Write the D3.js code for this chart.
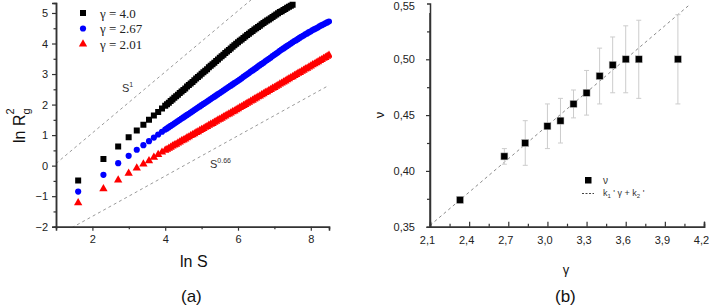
<!DOCTYPE html>
<html>
<head>
<meta charset="utf-8">
<script src="https://cdn.jsdelivr.net/npm/d3@7"></script>
<style>
  body { margin: 0; background: #fff; }
  svg { display: block; font-family: "Liberation Sans", Arial, sans-serif; }
</style>
</head>
<body>
<svg width="709" height="307"></svg>
<script>
const svg = d3.select('svg')

// ---- panel (a) data ----
// ln S for S = 5, 10, ... 50, then every 0.05 up to 8.5
const lnS = [1.609, 2.303, 2.708, 2.996, 3.219, 3.401, 3.555, 3.689, 3.807, 3.912,
  4.00, 4.05, 4.10, 4.15, 4.20, 4.25, 4.30, 4.35, 4.40, 4.45,
  4.50, 4.55, 4.60, 4.65, 4.70, 4.75, 4.80, 4.85, 4.90, 4.95,
  5.00, 5.05, 5.10, 5.15, 5.20, 5.25, 5.30, 5.35, 5.40, 5.45,
  5.50, 5.55, 5.60, 5.65, 5.70, 5.75, 5.80, 5.85, 5.90, 5.95,
  6.00, 6.05, 6.10, 6.15, 6.20, 6.25, 6.30, 6.35, 6.40, 6.45,
  6.50, 6.55, 6.60, 6.65, 6.70, 6.75, 6.80, 6.85, 6.90, 6.95,
  7.00, 7.05, 7.10, 7.15, 7.20, 7.25, 7.30, 7.35, 7.40, 7.45,
  7.50, 7.55, 7.60, 7.65, 7.70, 7.75, 7.80, 7.85, 7.90, 7.95,
  8.00, 8.05, 8.10, 8.15, 8.20, 8.25, 8.30, 8.35, 8.40, 8.45,
  8.50]

const gamma40 = [-0.49, 0.22, 0.63, 0.93, 1.15, 1.34, 1.50, 1.64, 1.76, 1.87,
  1.96, 2.01, 2.06, 2.12, 2.17, 2.22, 2.27, 2.32, 2.38, 2.43,
  2.48, 2.53, 2.59, 2.64, 2.69, 2.74, 2.80, 2.85, 2.90, 2.95,
  3.01, 3.06, 3.11, 3.16, 3.22, 3.27, 3.32, 3.37, 3.43, 3.48,
  3.53, 3.58, 3.63, 3.69, 3.74, 3.79, 3.84, 3.89, 3.94, 3.99,
  4.04, 4.09, 4.13, 4.18, 4.23, 4.28, 4.32, 4.37, 4.41, 4.46,
  4.50, 4.54, 4.58, 4.63, 4.67, 4.71, 4.75, 4.79, 4.83, 4.87,
  4.91, 4.95, 4.99, 5.03, 5.06, 5.10, 5.13, 5.17, 5.20, 5.24,
  5.27]

const gamma267 = [-0.85, -0.30, 0.08, 0.32, 0.52, 0.67, 0.80, 0.92, 1.02, 1.11,
  1.18, 1.22, 1.26, 1.30, 1.34, 1.38, 1.42, 1.46, 1.50, 1.54,
  1.58, 1.62, 1.66, 1.70, 1.74, 1.78, 1.82, 1.86, 1.90, 1.94,
  1.98, 2.02, 2.06, 2.10, 2.14, 2.18, 2.22, 2.26, 2.30, 2.34,
  2.38, 2.42, 2.46, 2.50, 2.54, 2.58, 2.62, 2.66, 2.70, 2.74,
  2.78, 2.82, 2.86, 2.91, 2.95, 2.99, 3.03, 3.08, 3.12, 3.16,
  3.20, 3.25, 3.29, 3.33, 3.37, 3.42, 3.46, 3.50, 3.54, 3.59,
  3.63, 3.67, 3.71, 3.76, 3.80, 3.84, 3.88, 3.92, 3.96, 4.00,
  4.04, 4.08, 4.11, 4.15, 4.19, 4.23, 4.26, 4.30, 4.33, 4.37,
  4.40, 4.44, 4.47, 4.50, 4.53, 4.57, 4.60, 4.63, 4.66, 4.69,
  4.72]

const gamma201 = [-1.22, -0.76, -0.47, -0.25, -0.08, 0.05, 0.16, 0.27, 0.36, 0.44,
  0.50, 0.53, 0.57, 0.60, 0.64, 0.67, 0.70, 0.74, 0.77, 0.81,
  0.84, 0.87, 0.91, 0.94, 0.98, 1.01, 1.04, 1.08, 1.11, 1.15,
  1.18, 1.21, 1.25, 1.28, 1.32, 1.35, 1.38, 1.42, 1.45, 1.49,
  1.52, 1.55, 1.59, 1.62, 1.66, 1.69, 1.72, 1.76, 1.79, 1.83,
  1.86, 1.90, 1.93, 1.97, 2.00, 2.04, 2.07, 2.11, 2.14, 2.18,
  2.21, 2.25, 2.28, 2.32, 2.35, 2.39, 2.42, 2.46, 2.49, 2.53,
  2.56, 2.60, 2.63, 2.67, 2.70, 2.74, 2.77, 2.81, 2.84, 2.88,
  2.91, 2.95, 2.98, 3.02, 3.05, 3.09, 3.12, 3.16, 3.19, 3.23,
  3.26, 3.30, 3.33, 3.37, 3.40, 3.44, 3.47, 3.51, 3.54, 3.58,
  3.61]

const seriesA = [
  { label: 'γ = 4.0', values: gamma40, color: '#000000', symbol: d3.symbolSquare, size: 36 },
  { label: 'γ = 2.67', values: gamma267, color: '#0000ff', symbol: d3.symbolCircle, size: 30 },
  { label: 'γ = 2.01', values: gamma201, color: '#ff0000', symbol: d3.symbolTriangle, size: 30 }
]

// guide lines: ln R^2 = slope * ln S + offset
const guideSlopes = [1, 0.66]
const guideOffsets = [-0.93, -2.98]

// ---- panel (b) data ----
const gammaB = [2.33, 2.67, 2.83, 3.0, 3.1, 3.2, 3.3, 3.4, 3.5, 3.6, 3.7, 4.0]
const nuB = [0.374, 0.413, 0.425, 0.440, 0.445, 0.460, 0.470, 0.485, 0.495, 0.500, 0.500, 0.500]
const nuErr = [0.003, 0.007, 0.020, 0.020, 0.020, 0.0125, 0.020, 0.025, 0.025, 0.030, 0.035, 0.040]
const fitK1 = 0.0994
const fitK2 = 0.1424

// ================= panel (a) =================
const xA = d3.scaleLinear().domain([1, 8.5]).range([56, 329])
const yA = d3.scaleLinear().domain([-2, 5.33]).range([226.7, 2.9])

const gA = svg.append('g')

gA.append('clipPath').attr('id', 'clipA')
  .append('rect').attr('x', 56).attr('y', 0).attr('width', 276).attr('height', 226.7)

const plotA = gA.append('g').attr('clip-path', 'url(#clipA)')

guideSlopes.forEach((s, i) => {
  const x0 = 1, x1 = 8.5
  plotA.append('line')
    .attr('x1', xA(x0)).attr('y1', yA(s * x0 + guideOffsets[i]))
    .attr('x2', xA(x1)).attr('y2', yA(s * x1 + guideOffsets[i]))
    .attr('stroke', '#9a9a9a').attr('stroke-width', 1)
    .attr('stroke-dasharray', '3,3')
})

seriesA.slice().reverse().forEach(s => {
  plotA.append('g').selectAll('path')
    .data(s.values)
    .join('path')
    .attr('transform', (d, i) => `translate(${xA(lnS[i])},${yA(d)})`)
    .attr('d', d3.symbol().type(s.symbol).size(s.size))
    .attr('fill', s.color)
})

// axes (a)
gA.append('g').attr('transform', 'translate(56,0)')
  .call(d3.axisLeft(yA).tickValues(d3.range(-2, 6, 1)).tickSize(4).tickPadding(4).tickFormat(d3.format('d')))
gA.append('g').attr('transform', 'translate(56,0)')
  .call(d3.axisLeft(yA).tickValues(d3.range(-1.5, 5.5, 1)).tickSize(2.5).tickFormat(''))
gA.append('g').attr('transform', 'translate(0,226.7)')
  .call(d3.axisBottom(xA).tickValues([2, 4, 6, 8]).tickSize(4).tickPadding(5).tickFormat(d3.format('d')))
gA.append('g').attr('transform', 'translate(0,226.7)')
  .call(d3.axisBottom(xA).tickValues([3, 5, 7]).tickSize(2.5).tickFormat(''))

// legend (a)
seriesA.forEach((s, i) => {
  const ly = 13 + i * 15.5
  gA.append('path')
    .attr('transform', `translate(83,${ly})`)
    .attr('d', d3.symbol().type(s.symbol).size(s.size))
    .attr('fill', s.color)
  gA.append('text')
    .attr('x', 100).attr('y', ly + 4.5)
    .attr('font-family', '"Liberation Serif", "Times New Roman", serif')
    .attr('font-size', 13).attr('fill', '#222')
    .text(s.label)
})

// guide labels
const sLab1 = gA.append('text').attr('x', 122).attr('y', 92).attr('font-size', 11).attr('fill', '#333')
sLab1.append('tspan').text('S')
sLab1.append('tspan').attr('font-size', 7).attr('dy', -5).text('1')
const sLab2 = gA.append('text').attr('x', 210).attr('y', 168).attr('font-size', 11).attr('fill', '#333')
sLab2.append('tspan').text('S')
sLab2.append('tspan').attr('font-size', 7).attr('dy', -5).text('0.66')

// axis titles (a)
const yLabA = gA.append('text')
  .attr('transform', 'translate(25,143) rotate(-90)')
  .attr('font-size', 16).attr('fill', '#111')
yLabA.append('tspan').text('ln R')
yLabA.append('tspan').attr('font-size', 11).attr('dy', 5).text('g')
yLabA.append('tspan').attr('font-size', 11).attr('dx', -6).attr('dy', -16).text('2')

gA.append('text').attr('x', 180).attr('y', 267).attr('font-size', 16).attr('fill', '#111').text('ln S')
gA.append('text').attr('x', 181).attr('y', 302).attr('font-size', 17).attr('fill', '#111').text('(a)')

// ================= panel (b) =================
const xB = d3.scaleLinear().domain([2.1, 4.2]).range([430, 704])
const yB = d3.scaleLinear().domain([0.35, 0.55]).range([226.7, 3.5])
const commaFmt = f => d => d3.format(f)(d).replace('.', ',')

const gB = svg.append('g')
gB.append('clipPath').attr('id', 'clipB')
  .append('rect').attr('x', 430).attr('y', 0).attr('width', 279).attr('height', 226.7)

gB.append('line')
  .attr('clip-path', 'url(#clipB)')
  .attr('x1', xB(2.1)).attr('y1', yB(fitK1 * 2.1 + fitK2))
  .attr('x2', xB(4.09)).attr('y2', yB(fitK1 * 4.09 + fitK2))
  .attr('stroke', '#8a8a8a').attr('stroke-width', 1)
  .attr('stroke-dasharray', '3,3')

gB.append('g').selectAll('line')
  .data(gammaB)
  .join('line')
  .attr('x1', d => xB(d)).attr('x2', d => xB(d))
  .attr('y1', (d, i) => yB(nuB[i] - nuErr[i]))
  .attr('y2', (d, i) => yB(nuB[i] + nuErr[i]))
  .attr('stroke', '#cccccc').attr('stroke-width', 1)

gB.append('g').selectAll('line')
  .data(gammaB.flatMap((d, i) => [[d, nuB[i] - nuErr[i]], [d, nuB[i] + nuErr[i]]]))
  .join('line')
  .attr('x1', d => xB(d[0]) - 2.5).attr('x2', d => xB(d[0]) + 2.5)
  .attr('y1', d => yB(d[1])).attr('y2', d => yB(d[1]))
  .attr('stroke', '#cccccc').attr('stroke-width', 1)

gB.append('g').selectAll('rect')
  .data(gammaB)
  .join('rect')
  .attr('x', d => xB(d) - 3.5)
  .attr('y', (d, i) => yB(nuB[i]) - 3.5)
  .attr('width', 7).attr('height', 7)
  .attr('fill', '#000')
  .attr('stroke', '#bbb').attr('stroke-width', 0.5)

// axes (b)
const yAxB = gB.append('g').attr('transform', 'translate(430,0)')
  .call(d3.axisLeft(yB).tickValues([0.35, 0.40, 0.45, 0.50, 0.55]).tickSize(4).tickPadding(11).tickFormat(commaFmt('.2f')))
gB.append('g').attr('transform', 'translate(430,0)')
  .call(d3.axisLeft(yB).tickValues([0.375, 0.425, 0.475, 0.525]).tickSize(3).tickFormat(''))
gB.append('g').attr('transform', 'translate(0,226.7)')
  .call(d3.axisBottom(xB).tickValues([2.1, 2.4, 2.7, 3.0, 3.3, 3.6, 3.9, 4.2]).tickSize(-5).tickPadding(10).tickFormat(commaFmt('.1f')))
  .selectAll('.tick text').attr('dx', -3)
gB.append('g').attr('transform', 'translate(0,226.7)')
  .call(d3.axisBottom(xB).tickValues([2.25, 2.55, 2.85, 3.15, 3.45, 3.75, 4.05]).tickSize(-3).tickFormat(''))

// legend (b)
gB.append('rect').attr('x', 585).attr('y', 177).attr('width', 6.5).attr('height', 6.5).attr('fill', '#000')
gB.append('text').attr('x', 603).attr('y', 184).attr('font-size', 10).attr('fill', '#333').text('ν')
gB.append('line').attr('x1', 582).attr('x2', 594).attr('y1', 193.5).attr('y2', 193.5)
  .attr('stroke', '#444').attr('stroke-width', 1).attr('stroke-dasharray', '2,1.5')
const fitLab = gB.append('text').attr('x', 603).attr('y', 196).attr('font-size', 9).attr('fill', '#333')
fitLab.append('tspan').text('k')
fitLab.append('tspan').attr('font-size', 6).attr('dy', 2).text('1')
fitLab.append('tspan').attr('dy', -2).text(' \' γ + k')
fitLab.append('tspan').attr('font-size', 6).attr('dy', 2).text('2')
fitLab.append('tspan').attr('dy', -2).text(' \'')

// axis titles (b)
gB.append('text')
  .attr('transform', 'translate(384,115) rotate(-90)')
  .attr('text-anchor', 'middle')
  .attr('font-size', 13).attr('fill', '#111').text('ν')
gB.append('text').attr('x', 566).attr('y', 274).attr('text-anchor', 'middle')
  .attr('font-size', 13).attr('fill', '#111').text('γ')
gB.append('text').attr('x', 555).attr('y', 302).attr('font-size', 17).attr('fill', '#111').text('(b)')

// common axis styling
svg.selectAll('.domain').attr('stroke', '#333').attr('stroke-width', 1.5)
svg.selectAll('.tick line').attr('stroke', '#333').attr('stroke-width', 1.2)
svg.selectAll('.tick text').attr('font-size', 11).attr('fill', '#222')
  .attr('font-family', '"Liberation Sans", Arial, sans-serif')
// drop the outer end ticks d3 draws on the domain path
svg.selectAll('.domain').each(function () {
  const p = d3.select(this)
  const d = p.attr('d')
  const nums = d.match(/-?\d+(\.\d+)?/g).map(Number)
  if (d.includes('H0V')) p.attr('d', `M0,${nums[1]}V${nums[2]}`)
  else if (d.includes('V0H')) p.attr('d', `M${nums[0]},0H${nums[2]}`)
})

// panel (b): the y axis line starts just below the top label, the 0,55 label sits a bit lower
yAxB.select('.domain').attr('d', `M0,13V226.7`)
yAxB.selectAll('.tick').filter(d => d === 0.55)
  .attr('transform', 'translate(0,6)')
  .select('line').attr('stroke', 'none')
</script>
</body>
</html>
